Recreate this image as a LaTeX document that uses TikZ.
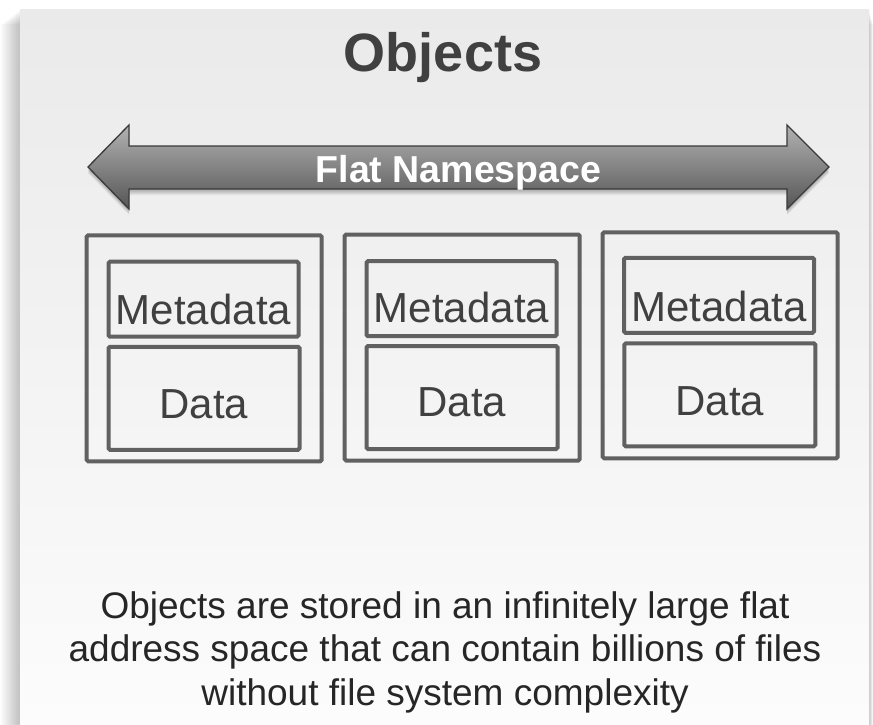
\documentclass[tikz,border=0pt]{standalone}
\usepackage{fontspec}
\setmainfont{Liberation Sans}
\definecolor{boxgray}{HTML}{616161}
\definecolor{txtgray}{HTML}{404040}
\definecolor{bodytxt}{HTML}{262626}
\definecolor{panTop}{HTML}{EAEAEA}
\definecolor{panBot}{HTML}{FCFCFC}
\definecolor{arrTop}{HTML}{B2B2B2}
\definecolor{arrMid}{HTML}{8A8A8A}
\definecolor{arrBot}{HTML}{555555}
\definecolor{arrLine}{HTML}{3A3A3A}
\begin{document}
\begin{tikzpicture}[x=1pt,y=-1pt,
  outerbox/.style={draw=boxgray, line width=4pt, rounded corners=1.5pt, inner sep=0pt, minimum width=235pt, minimum height=226pt},
  metabox/.style={draw=boxgray, line width=4pt, rounded corners=1.5pt, inner sep=0pt, minimum width=190pt, minimum height=75pt},
  databox/.style={draw=boxgray, line width=4pt, rounded corners=1.5pt, inner sep=0pt, minimum width=191pt, minimum height=103pt},
  boxtext/.style={text=txtgray, inner sep=0pt, anchor=base, font=\fontsize{42}{48}\selectfont},
  bodyline/.style={text=bodytxt, inner sep=0pt, anchor=base, font=\fontsize{37}{44}\selectfont},
]
\useasboundingbox (0,0) rectangle (873,724);
\fill[white] (0,0) rectangle (873,724);
% panel shadow
\foreach \i in {1,...,10}
  \fill[black, opacity=0.022, rounded corners=2pt] (20-1.9*\i, 9+1.5*\i) rectangle (869+0.4*\i, 740);
% panel
\shade[top color=panTop, bottom color=panBot] (20,9) rectangle (869,724);
% title
\node[text=txtgray, inner sep=0pt, anchor=base, font=\fontsize{54}{60}\selectfont\bfseries] (title) at (443,71.7) {Objects};
% arrow shadow
\foreach \i in {1,...,6}
  \fill[black, opacity=0.05] (88,167+\i) -- (129,125+\i) -- (129,146+\i) -- (787,146+\i) -- (787,125+\i) -- (829,167+\i) -- (787,209+\i) -- (787,189+\i) -- (129,189+\i) -- (129,209+\i) -- cycle;
% arrow
\path[top color=arrTop, middle color=arrMid, bottom color=arrBot, draw=arrLine, line width=1.3pt, line join=miter]
  (88,167) -- (129,125) -- (129,146) -- (787,146) -- (787,125) -- (829,167) -- (787,209) -- (787,189) -- (129,189) -- (129,209) -- cycle;
\node[text=white, inner sep=0pt, anchor=base, font=\fontsize{37.5}{44}\selectfont\bfseries] (ns) at (458.5,182.7) {Flat Namespace};
% object 1
\node[outerbox] (o1) at (204.2,348.3) {};
\node[metabox] (m1) at (203.5,299.2) {};
\node[databox] (d1) at (204,398.3) {};
\node[boxtext] (mt1) at (203.5,324) {Metadata};
\node[boxtext] (dt1) at (204,418) {Data};
% object 2
\node[outerbox] (o2) at (462.2,347.5) {};
\node[metabox] (m2) at (461.5,298.7) {};
\node[databox] (d2) at (462,397.5) {};
\node[boxtext] (mt2) at (461.5,322) {Metadata};
\node[boxtext] (dt2) at (462,416.7) {Data};
% object 3
\node[outerbox] (o3) at (720.2,345.3) {};
\node[metabox] (m3) at (719,295.3) {};
\node[databox] (d3) at (719.8,394.8) {};
\node[boxtext] (mt3) at (719,321.7) {Metadata};
\node[boxtext] (dt3) at (719.8,415) {Data};
% bottom text
\node[bodyline] (t1) at (445,618.3) {Objects are stored in an infinitely large flat};
\node[bodyline] (t2) at (445,661.7) {address space that can contain billions of files};
\node[bodyline] (t3) at (445,705) {without file system complexity};
\end{tikzpicture}
\end{document}
